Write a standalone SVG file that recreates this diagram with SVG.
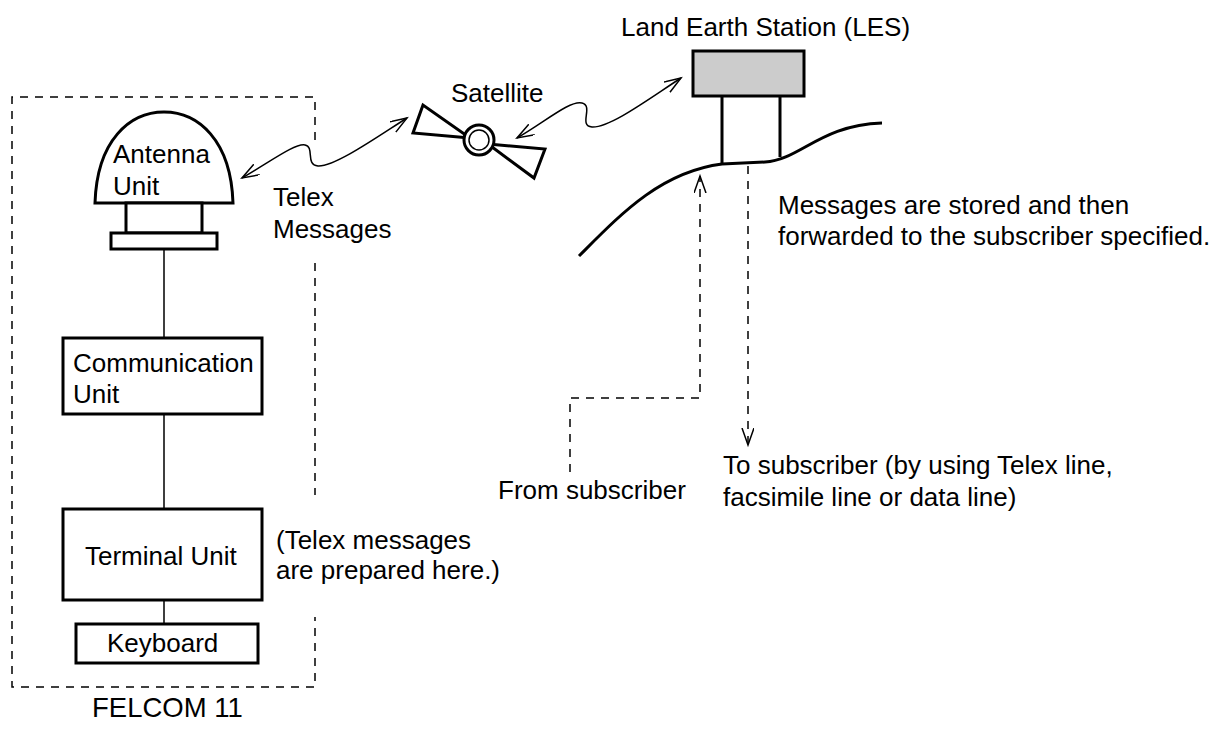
<svg xmlns="http://www.w3.org/2000/svg" width="1222" height="731" viewBox="0 0 1222 731">
  <style>
    text { font-family: "Liberation Sans", Arial, sans-serif; font-size: 26px; fill: #000; }
    .box { fill: #fff; stroke: #000; stroke-width: 3; }
    .wire { fill: none; stroke: #000; stroke-width: 1.5; }
    .dash { fill: none; stroke: #000; stroke-width: 1.5; stroke-dasharray: 8 7; }
    .wave { fill: none; stroke: #000; stroke-width: 1.5; }
    .thick { fill: none; stroke: #000; stroke-width: 3; }
  </style>
  <defs>
    <marker id="vhead" markerUnits="userSpaceOnUse" markerWidth="20" markerHeight="14" refX="17" refY="6" orient="auto-start-reverse">
      <path d="M0,0 L17,6 L0,12" fill="none" stroke="#000" stroke-width="1.5"/>
    </marker>
  </defs>

  <!-- FELCOM 11 enclosure (dashed outline, open where labels sit) -->
  <g id="felcom">
    <path class="dash" d="M315,140 V97 H12 V687 H315 V617"/>
    <path class="dash" d="M315,263 V495"/>
    <text x="92" y="717" style="font-size:27.5px">FELCOM 11</text>
  </g>

  <g id="antenna">
    <path class="box" d="M95,203 C97,140 130,112 164,112 C198,112 231,140 233,203 Z"/>
    <rect class="box" x="126" y="203" width="76" height="30"/>
    <rect class="box" x="111" y="233" width="106" height="16"/>
    <text x="113" y="163">Antenna</text>
    <text x="113" y="195">Unit</text>
  </g>

  <g id="comm">
    <rect class="box" x="63" y="338" width="199" height="76"/>
    <text x="73" y="372">Communication</text>
    <text x="73" y="403">Unit</text>
  </g>

  <g id="terminal">
    <rect class="box" x="63" y="509" width="199" height="91"/>
    <text x="85" y="565">Terminal Unit</text>
  </g>

  <g id="keyboard">
    <rect class="box" x="76" y="624" width="182" height="39"/>
    <text x="107" y="652">Keyboard</text>
  </g>

  <g id="satellite">
    <polygon class="thick" points="423,105 413,133 470,138"/>
    <polygon class="thick" points="545,149 534,178 488,144"/>
    <circle cx="479" cy="140" r="15" fill="#fff" stroke="#000" stroke-width="3"/>
    <circle cx="479" cy="140" r="10" fill="none" stroke="#000" stroke-width="1.5"/>
    <text x="451" y="102">Satellite</text>
  </g>

  <g id="les">
    <rect x="693" y="51" width="111" height="45" fill="#ccc" stroke="#000" stroke-width="3"/>
    <path class="thick" d="M722,96 V164 M780,96 V157"/>
    <path class="thick" d="M579,256 C620,215 660,172 722,164 L765,162 C800,160 820,125 882,123"/>
    <text x="621" y="36">Land Earth Station (LES)</text>
  </g>

  <!-- links and signal paths -->
  <g id="connectors">
    <path class="wire" d="M164,249 V338 M164,414 V509 M164,600 V624"/>
    <path class="wave" marker-start="url(#vhead)" marker-end="url(#vhead)" d="M242,178 C270,162 295,143 305,145 C315,147 305,165 318,166 C335,167 380,135 407,118"/>
    <path class="wave" marker-start="url(#vhead)" marker-end="url(#vhead)" d="M517,138 C545,122 570,100 582,103 C594,106 578,126 592,127 C610,128 650,98 681,78"/>
    <path class="dash" marker-end="url(#vhead)" d="M570,472 V398 H700 V176"/>
    <path class="dash" marker-end="url(#vhead)" d="M748,166 V445"/>
  </g>

  <g id="notes">
    <text x="273" y="206">Telex</text>
    <text x="273" y="238">Messages</text>
    <text x="778" y="214">Messages are stored and then</text>
    <text x="778" y="245">forwarded to the subscriber specified.</text>
    <text x="276" y="549">(Telex messages</text>
    <text x="276" y="579">are prepared here.)</text>
    <text x="498" y="499">From subscriber</text>
    <text x="723" y="474">To subscriber (by using Telex line,</text>
    <text x="723" y="506">facsimile line or data line)</text>
  </g>
</svg>
